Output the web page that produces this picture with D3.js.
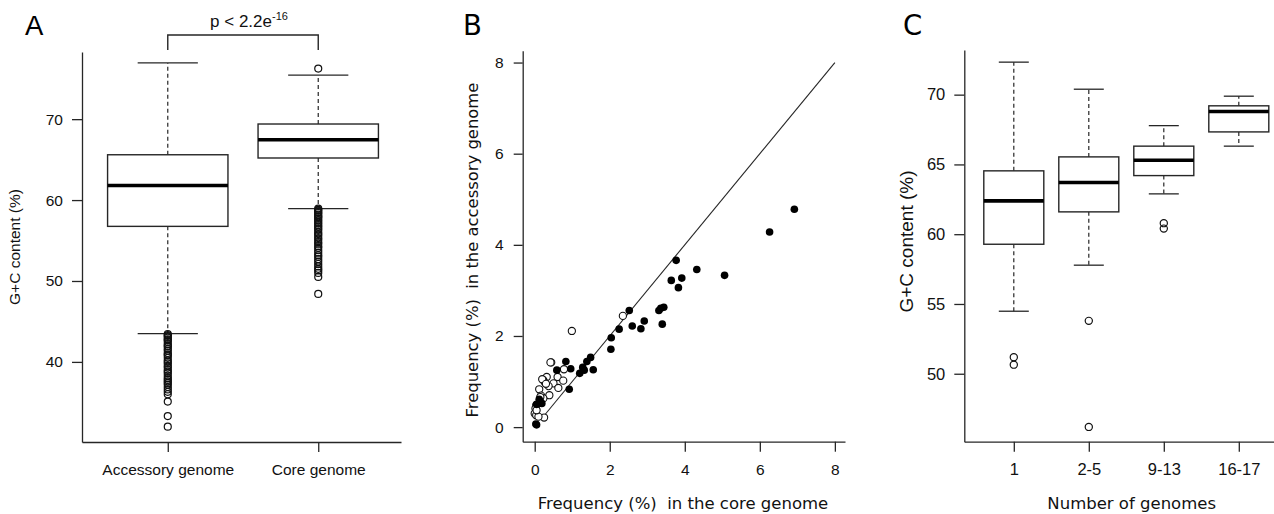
<!DOCTYPE html>
<html>
<head>
<meta charset="utf-8">
<script src="https://cdn.jsdelivr.net/npm/d3@7"></script>
<style>
  body { margin: 0; background: #fff; }
  svg { display: block; }
  .sans { font-family: "Liberation Sans", Arial, sans-serif; }
  .deja { font-family: "DejaVu Sans", sans-serif; }
</style>
</head>
<body>
<script>
// ---- Panel A: G+C content, accessory vs core ----
var groupsA = ["Accessory genome", "Core genome"]
var lowA = [43.5, 58.95]
var q1A = [56.75, 65.2]
var medA = [61.8, 67.45]
var q3A = [65.6, 69.4]
var highA = [76.95, 75.45]
var outAccessory = [43.45, 43.3, 43.2, 43.0, 42.8, 42.7, 42.5, 42.2, 42.0, 41.9, 41.6, 41.4, 41.1, 40.9,
  40.8, 40.5, 40.2, 40.0, 39.8, 39.5, 39.3, 39.0, 38.8, 38.6, 38.3, 38.0, 37.8, 37.6, 37.4, 37.2,
  36.9, 36.6, 36.3, 36.0, 35.1, 33.3, 32.0]
var outCore = [76.25, 58.95, 58.8, 58.7, 58.5, 58.4, 58.2, 58.0, 57.9, 57.7, 57.5, 57.3, 57.1, 56.9,
  56.7, 56.5, 56.3, 56.0, 55.8, 55.6, 55.3, 55.1, 54.8, 54.6, 54.3, 54.1, 53.8, 53.5, 53.2, 53.0,
  52.7, 52.4, 52.1, 51.8, 51.5, 51.3, 51.0, 50.5, 48.4]
var ticksA = [40, 50, 60, 70]

// ---- Panel B: frequency, core vs accessory ----
var filledCore = [6.92, 6.26, 5.06, 4.32, 3.77, 3.64, 3.92, 3.83, 3.31, 3.36, 3.44, 3.40, 2.92, 2.83,
  2.60, 2.52, 2.25, 2.04, 2.03, 1.56, 1.49, 1.39, 1.32, 1.28, 1.20, 0.96, 0.83, 0.92, 0.59, 0.19,
  0.12, 0.05, 0.03, 0.05, 0.15]
var filledAcc = [4.78, 4.28, 3.33, 3.46, 3.66, 3.22, 3.27, 3.06, 2.56, 2.61, 2.63, 2.26, 2.33, 2.16,
  2.22, 2.56, 2.15, 1.96, 1.71, 1.26, 1.53, 1.44, 1.25, 1.31, 1.18, 1.28, 1.44, 0.83, 1.25, 0.52,
  0.61, 0.50, 0.07, 0.05, 0.56]
var openCore = [2.35, 0.99, 0.44, 0.42, 0.78, 0.61, 0.32, 0.76, 0.50, 0.37, 0.63, 0.23, 0.28, 0.20,
  0.12, 0.39, 0.17, 0.23, 0.04, 0.02, 0.00, 0.04, 0.25, 0.10, 0.05, 0.30, 0.15]
var openAcc = [2.44, 2.11, 1.42, 1.42, 1.27, 1.10, 1.10, 1.02, 0.96, 0.90, 0.86, 1.03, 0.97, 1.05,
  0.83, 0.70, 0.69, 0.63, 0.48, 0.41, 0.30, 0.26, 0.21, 0.23, 0.37, 0.95, 0.66]
var diagB = [0.2, 8]
var ticksB = [0, 2, 4, 6, 8]

// ---- Panel C: G+C content by number of genomes ----
var groupsC = ["1", "2-5", "9-13", "16-17"]
var lowC = [54.48, 57.78, 62.89, 66.31]
var q1C = [59.28, 61.6, 64.2, 67.33]
var medC = [62.39, 63.7, 65.3, 68.79]
var q3C = [64.54, 65.54, 66.31, 69.2]
var highC = [72.33, 70.39, 67.78, 69.89]
var outC = [[51.18, 50.65], [53.79, 46.19], [60.79, 60.40], []]
var ticksC = [50, 55, 60, 65, 70]

var ink = "#262626"

var svg = d3.select("body").append("svg")
    .attr("width", 1274)
    .attr("height", 514)

// style an axis group like base R graphics
function styleAxis(g, font, size) {
    g.selectAll("path.domain").attr("stroke", ink).attr("stroke-width", 1.3)
    g.selectAll(".tick line").attr("stroke", ink).attr("stroke-width", 1.3)
    g.selectAll(".tick text")
        .attr("class", font)
        .style("font-size", size + "px")
        .attr("fill", "#111")
}

// draws one boxplot panel
function boxPanel(x, y, groups, low, q1, med, q3, high, outs, r) {
    var g = svg.append("g")
    groups.forEach(function (name, i) {
        var c = x(i + 1)
        var hw = x(i + 1.4) - c      // half box width (0.8 units)
        var cw = x(i + 1.2) - c      // half cap width
        // dashed whiskers
        g.append("line").attr("x1", c).attr("x2", c).attr("y1", y(q3[i])).attr("y2", y(high[i]))
            .attr("stroke", ink).attr("stroke-width", 1.2).attr("stroke-dasharray", "4,3")
        g.append("line").attr("x1", c).attr("x2", c).attr("y1", y(q1[i])).attr("y2", y(low[i]))
            .attr("stroke", ink).attr("stroke-width", 1.2).attr("stroke-dasharray", "4,3")
        // caps
        ;[low[i], high[i]].forEach(function (v) {
            g.append("line").attr("x1", c - cw).attr("x2", c + cw).attr("y1", y(v)).attr("y2", y(v))
                .attr("stroke", ink).attr("stroke-width", 1.3)
        })
        g.append("rect")
            .attr("x", c - hw).attr("width", 2 * hw)
            .attr("y", y(q3[i])).attr("height", y(q1[i]) - y(q3[i]))
            .attr("fill", "#fff").attr("stroke", ink).attr("stroke-width", 1.4)
        g.append("line").attr("x1", c - hw).attr("x2", c + hw).attr("y1", y(med[i])).attr("y2", y(med[i]))
            .attr("stroke", "#000").attr("stroke-width", 3.6)
        g.selectAll(null).data(outs[i]).enter().append("circle")
            .attr("cx", c).attr("cy", function (d) { return y(d) })
            .attr("r", r)
            .attr("fill", "none").attr("stroke", "#111").attr("stroke-width", 1.2)
    })
}

// ================= Panel A =================
var xA = d3.scaleLinear().domain([0.43, 2.55]).range([82, 401])
var yA = d3.scaleLinear().domain([30.1, 78.3]).range([442, 52])

var axAy = svg.append("g").attr("transform", "translate(82,0)")
    .call(d3.axisLeft(yA).tickValues(ticksA).tickSize(10).tickSizeOuter(0).tickPadding(9))
styleAxis(axAy, "sans", 15.5)
var axAx = svg.append("g").attr("transform", "translate(0,442)")
    .call(d3.axisBottom(xA).tickValues([1, 2]).tickFormat(function (d) { return groupsA[d - 1] })
        .tickSize(10).tickSizeOuter(0).tickPadding(12))
styleAxis(axAx, "sans", 15.5)

boxPanel(xA, yA, groupsA, lowA, q1A, medA, q3A, highA, [outAccessory, outCore], 3.5)

// significance bracket
svg.append("path")
    .attr("d", "M" + xA(1) + ",50V35H" + xA(2) + "V50")
    .attr("fill", "none").attr("stroke", ink).attr("stroke-width", 1.4)
var pTxt = svg.append("text").attr("class", "sans")
    .attr("x", 249).attr("y", 27)
    .attr("text-anchor", "middle")
    .style("font-size", "17px").attr("fill", "#111")
    .text("p < 2.2e")
pTxt.append("tspan").attr("dy", -7).style("font-size", "11px").text("-16")

svg.append("text").attr("class", "sans")
    .attr("transform", "translate(20,247) rotate(-90)")
    .attr("text-anchor", "middle")
    .style("font-size", "15.5px").attr("fill", "#111")
    .text("G+C content (%)")

// ================= Panel B =================
var xB = d3.scaleLinear().domain([-0.32, 8.27]).range([522.7, 845])
var yB = d3.scaleLinear().domain([-0.32, 8.26]).range([441.7, 50.7])

var axBy = svg.append("g").attr("transform", "translate(522.7,0)")
    .call(d3.axisLeft(yB).tickValues(ticksB).tickSize(9).tickSizeOuter(0).tickPadding(10))
styleAxis(axBy, "sans", 15.5)
var axBx = svg.append("g").attr("transform", "translate(0,441.7)")
    .call(d3.axisBottom(xB).tickValues(ticksB).tickSize(10).tickSizeOuter(0).tickPadding(12))
styleAxis(axBx, "sans", 15.5)

svg.append("line")
    .attr("x1", xB(diagB[0])).attr("y1", yB(diagB[0]))
    .attr("x2", xB(diagB[1])).attr("y2", yB(diagB[1]))
    .attr("stroke", ink).attr("stroke-width", 1.1)

svg.append("g").selectAll("circle")
    .data(openCore.map(function (d, i) { return [d, openAcc[i]] }))
    .enter().append("circle")
    .attr("cx", function (d) { return xB(d[0]) })
    .attr("cy", function (d) { return yB(d[1]) })
    .attr("r", 3.6)
    .attr("fill", "#fff").attr("stroke", "#111").attr("stroke-width", 1.1)

svg.append("g").selectAll("circle")
    .data(filledCore.map(function (d, i) { return [d, filledAcc[i]] }))
    .enter().append("circle")
    .attr("cx", function (d) { return xB(d[0]) })
    .attr("cy", function (d) { return yB(d[1]) })
    .attr("r", 3.8)
    .attr("fill", "#000")

svg.append("text").attr("class", "deja")
    .attr("transform", "translate(478,250) rotate(-90)")
    .attr("text-anchor", "middle")
    .style("font-size", "16.4px").attr("fill", "#111")
    .text("Frequency (%)\u00a0\u00a0in the accessory genome")
svg.append("text").attr("class", "deja")
    .attr("x", 683).attr("y", 509)
    .attr("text-anchor", "middle")
    .style("font-size", "16.5px").attr("fill", "#111")
    .text("Frequency (%)\u00a0\u00a0in the core genome")

// ================= Panel C =================
var xC = d3.scaleLinear().domain([0.34, 4.66]).range([964.3, 1288.3])
var yC = d3.scaleLinear().domain([45.13, 73.2]).range([441.7, 50])

var axCy = svg.append("g").attr("transform", "translate(964.3,0)")
    .call(d3.axisLeft(yC).tickValues(ticksC).tickSize(10).tickSizeOuter(0).tickPadding(9))
styleAxis(axCy, "sans", 16.5)
var axCx = svg.append("g").attr("transform", "translate(0,441.7)")
    .call(d3.axisBottom(xC).tickValues([1, 2, 3, 4]).tickFormat(function (d) { return groupsC[d - 1] })
        .tickSize(10).tickSizeOuter(0).tickPadding(12))
styleAxis(axCx, "sans", 16.5)

boxPanel(xC, yC, groupsC, lowC, q1C, medC, q3C, highC, outC, 3.6)

svg.append("text").attr("class", "sans")
    .attr("transform", "translate(913,241.5) rotate(-90)")
    .attr("text-anchor", "middle")
    .style("font-size", "19px").attr("fill", "#111")
    .text("G+C content (%)")
svg.append("text").attr("class", "deja")
    .attr("x", 1131.7).attr("y", 509)
    .attr("text-anchor", "middle")
    .style("font-size", "16.5px").attr("fill", "#111")
    .text("Number of genomes")

// panel letters
;[["A", 25, "sans"], ["B", 463, "deja"], ["C", 903, "deja"]].forEach(function (p) {
    svg.append("text").attr("class", p[2])
        .attr("x", p[1]).attr("y", 35)
        .style("font-size", "27.5px").attr("fill", "#000")
        .text(p[0])
})
</script>
</body>
</html>
